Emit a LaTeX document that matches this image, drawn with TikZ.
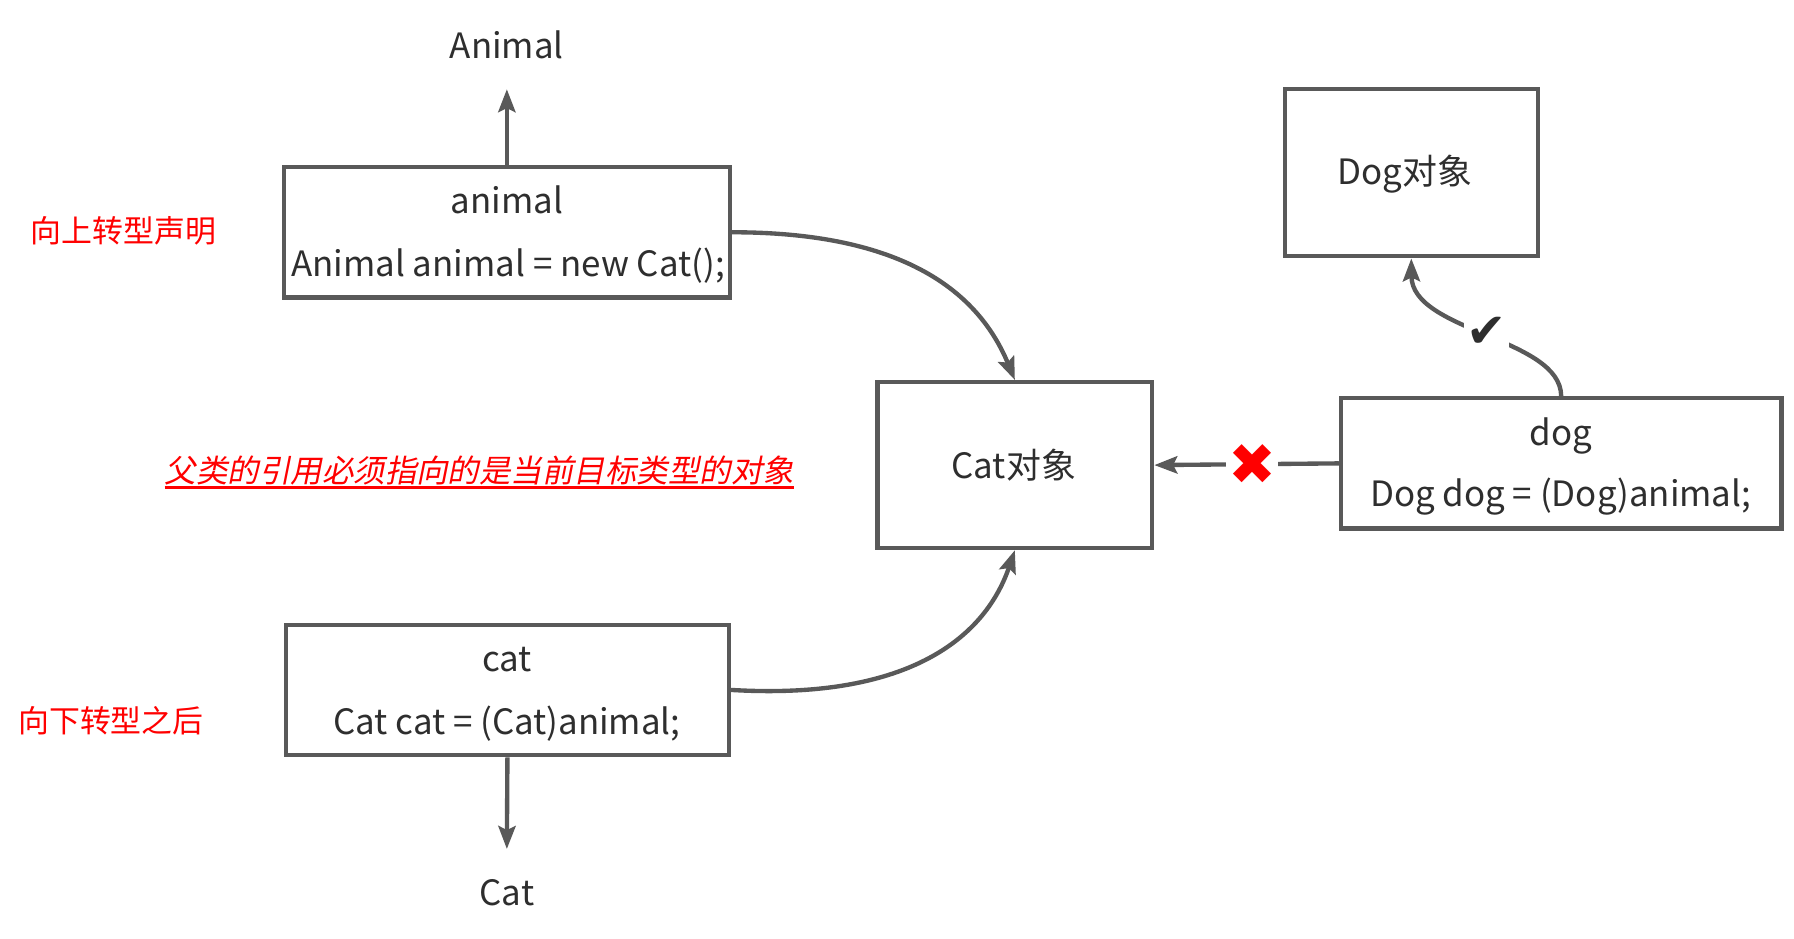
\documentclass[tikz,border=0pt]{standalone}
\usepackage{fontspec}
\setmainfont{Noto Sans CJK SC}
\newfontfamily\slantfont[FakeSlant=0.2]{Noto Sans CJK SC}
\newfontfamily\symfont{DejaVu Sans}
\usetikzlibrary{arrows.meta}
\definecolor{edgegray}{HTML}{595959}
\definecolor{txtgray}{HTML}{2E2E2E}
\definecolor{warnred}{HTML}{FF0000}
\begin{document}
\begin{tikzpicture}[x=1pt,y=-1pt,
  box/.style={draw=edgegray, line width=3.8pt, fill=white, inner sep=0pt},
  lbl/.style={text=txtgray, font=\fontsize{30.5}{36}\selectfont, inner sep=0pt, text height=28pt, text depth=6pt},
  note/.style={text=warnred, font=\fontsize{27}{32}\selectfont, inner sep=0pt, text height=24pt, text depth=4pt},
  conn/.style={draw=edgegray, line width=3.8pt, -{Stealth[length=20pt,width=15pt,inset=3.5pt]}},
]
\useasboundingbox (0,0) rectangle (1568,820);

% boxes
\node[box, minimum width=390pt, minimum height=114pt] (animalbox) at (443,203) {};
\node[box, minimum width=387pt, minimum height=114pt] (catbox) at (443.5,603) {};
\node[box, minimum width=240pt, minimum height=145pt] (catobj) at (887,406.5) {};
\node[box, minimum width=221pt, minimum height=146pt] (dogobj) at (1233.5,151) {};
\node[box, minimum width=385pt, minimum height=114pt] (dogbox) at (1364.5,405) {};

% texts in boxes
\node[lbl] (animalname) at (443,176) {animal};
\node[lbl] (animaldecl) at (444,231) {Animal animal = new Cat();};
\node[lbl] (catname) at (443,576) {cat};
\node[lbl] (catdecl) at (443,631) {Cat cat = (Cat)animal;};
\node[lbl] (catobjtxt) at (886,407) {Cat对象};
\node[lbl] (dogobjtxt) at (1228,150) {Dog对象};
\node[lbl] (dogname) at (1364,378) {dog};
\node[lbl] (dogdecl) at (1364,432) {Dog dog = (Dog)animal;};

% free texts
\node[lbl] (animaltype) at (443,40) {Animal};
\node[lbl] (cattype) at (443,780) {Cat};
\node[note] (upnote) at (108,202) {向上转型声明};
\node[note] (downnote) at (97,630) {向下转型之后};
\node[note, font=\slantfont\fontsize{27.5}{32}\selectfont] (slogan) at (419,412) {父类的引用必须指向的是当前目标类型的对象};
\draw[warnred, line width=2.2pt] (slogan.south west) -- (slogan.south east);

% connector ends
\coordinate (animaltip) at (443,78);
\coordinate (cattip) at (443,742);

% connectors
\draw[conn] (animalbox.north) -- (animaltip);
\draw[conn] (catbox.south) -- (cattip);
\draw[conn] (animalbox.east) .. controls (790,203) and (855,255) .. (catobj.north);
\draw[conn] (catbox.east) .. controls (790,612) and (860,560) .. (catobj.south);
\draw[conn] (dogbox.west) -- (catobj.east)
  node[pos=0.47, fill=white, inner sep=2pt, text=warnred, font=\symfont\fontsize{50}{50}\selectfont] (cross) {✖};
\draw[conn] (dogbox.north) .. controls (1364,295) and (1234,290) .. (dogobj.south)
  node[pos=0.5, fill=white, inner sep=2pt, text=txtgray, font=\symfont\fontsize{42}{42}\selectfont] (tick) {✔};
\end{tikzpicture}
\end{document}
